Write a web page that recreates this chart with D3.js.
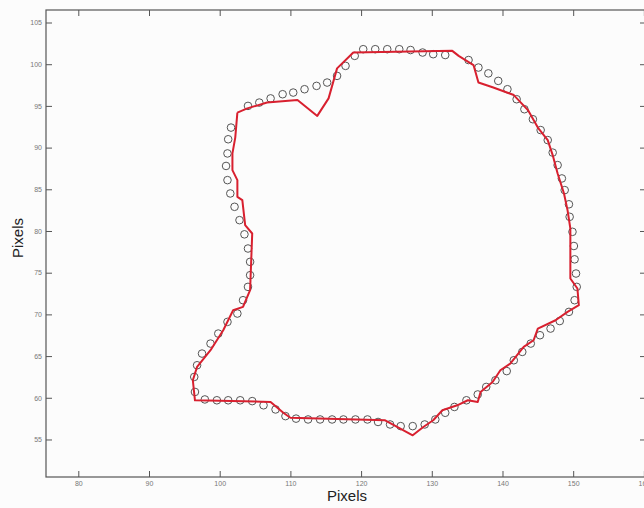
<!DOCTYPE html>
<html>
<head>
<meta charset="utf-8">
<script src="https://cdn.jsdelivr.net/npm/d3@7"></script>
<style>
  html, body { margin: 0; padding: 0; background: #fcfcfc; }
  svg { display: block; }
</style>
</head>
<body>
<div id="chart"></div>
<script>
// contour (red line), in pixel units
const contourX = [102.5, 103.9, 106.7, 111.0, 113.8, 115.4, 116.6, 118.9, 132.9, 133.8, 135.9, 136.6, 138.7, 141.6,
  143.6, 145.0, 146.4, 147.1, 147.8, 148.7, 149.2, 149.6, 149.6, 150.6, 150.8, 149.2, 147.5, 145.0, 144.4, 143.0,
  141.1, 139.7, 138.6, 136.9, 136.5, 135.1, 133.6, 131.5, 130.2, 128.8, 127.3, 123.4, 110.0, 109.0, 107.2, 96.5,
  96.2, 96.8, 98.7, 100.5, 101.9, 103.3, 104.3, 104.6, 103.6, 103.2, 102.5, 102.5, 101.8, 101.8, 102.2, 102.5];
const contourY = [94.2, 94.7, 95.4, 95.7, 93.8, 95.9, 99.5, 101.4, 101.6, 101.0, 99.9, 97.8, 97.2, 96.3,
  94.5, 92.4, 90.9, 89.1, 86.9, 84.5, 82.5, 80.3, 74.3, 73.1, 71.1, 70.3, 69.3, 68.3, 66.9, 66.1,
  64.1, 63.3, 61.9, 60.7, 59.5, 59.7, 59.1, 58.5, 57.3, 56.5, 55.5, 57.3, 57.6, 58.2, 59.5, 59.7,
  62.1, 63.7, 65.7, 68.1, 70.5, 70.9, 72.9, 79.7, 80.7, 83.7, 84.1, 86.1, 87.3, 89.3, 91.2, 94.2];

// reference points (open circles)
const pointsX = [101.6, 104.0, 105.6, 107.2, 108.9, 110.4, 112.0, 113.7, 115.2, 116.6, 117.8, 119.1, 120.3, 122.0,
  123.7, 125.4, 127.0, 128.7, 130.2, 131.9, 135.2, 136.6, 138.0, 139.4, 140.7, 142.0, 143.1, 144.3, 145.4, 146.4,
  147.1, 147.8, 148.4, 148.8, 149.4, 149.5, 149.9, 150.1, 150.2, 150.4, 150.5, 150.2, 149.4, 148.1, 146.8, 145.3,
  144.0, 142.8, 141.6, 140.6, 139.0, 137.7, 136.5, 134.9, 133.2, 131.9, 130.5, 129.0, 127.3, 125.6, 124.1, 122.4,
  120.9, 119.2, 117.5, 115.9, 114.2, 112.5, 110.8, 109.3, 107.9, 106.2, 104.6, 102.9, 101.2, 99.6, 97.9, 96.5,
  96.4, 96.8, 97.5, 98.7, 99.8, 101.1, 102.5, 103.3, 104.0, 104.3, 104.3, 104.0, 103.5, 102.8, 102.1, 101.5,
  101.1, 100.9, 101.1, 101.2];
const pointsY = [92.4, 95.0, 95.4, 95.9, 96.4, 96.6, 97.0, 97.4, 97.8, 98.6, 99.8, 101.0, 101.8, 101.8,
  101.8, 101.8, 101.7, 101.4, 101.2, 101.1, 100.5, 99.6, 98.9, 98.0, 97.0, 95.8, 94.6, 93.4, 92.1, 90.9,
  89.4, 87.9, 86.3, 84.9, 83.2, 81.7, 79.9, 78.2, 76.6, 74.9, 73.3, 71.7, 70.3, 69.2, 68.3, 67.5,
  66.5, 65.5, 64.5, 63.2, 62.1, 61.3, 60.4, 59.7, 58.9, 58.2, 57.4, 56.8, 56.6, 56.6, 56.8, 57.1,
  57.4, 57.4, 57.4, 57.4, 57.4, 57.4, 57.5, 57.8, 58.6, 59.1, 59.6, 59.7, 59.7, 59.7, 59.8, 60.7,
  62.5, 63.9, 65.3, 66.5, 67.7, 69.1, 70.1, 71.7, 73.3, 74.7, 76.3, 77.9, 79.6, 81.3, 82.9, 84.5,
  86.1, 87.8, 89.3, 91.0];

const xTicks = [80, 90, 100, 110, 120, 130, 140, 150, 160];
const yTicks = [55, 60, 65, 70, 75, 80, 85, 90, 95, 100, 105];
const xTitle = "Pixels";
const yTitle = "Pixels";

const createChart = () => {
  let containerdims = { width: 644, height: 508 };
  let margins = { t: 10, b: 31, l: 46, r: -2 };
  let chartdims = {
    width: containerdims.width - margins.l - margins.r,
    height: containerdims.height - margins.t - margins.b,
  };

  let svg = d3.select('#chart').append('svg')
    .attr('width', containerdims.width)
    .attr('height', containerdims.height)
    .style('font-family', 'Arial, "Liberation Sans", sans-serif');

  let xScale = d3.scaleLinear().domain([75.43, 160.3]).range([0, chartdims.width]);
  let yScale = d3.scaleLinear().domain([50.5, 106.5]).range([chartdims.height, 0]);

  let plotg = svg.append('g').attr('transform', `translate(${margins.l},${margins.t})`);

  // axes, MATLAB style ticks pointing inward on all four sides
  const styleAxis = (g, showText) => {
    g.select('.domain').remove();
    g.selectAll('.tick line').attr('stroke', '#555').attr('stroke-width', 1);
    g.selectAll('.tick text').attr('fill', '#777').style('font-size', '7px');
    if (!showText) g.selectAll('.tick text').remove();
  };

  plotg.append('g')
    .attr('transform', `translate(0,${chartdims.height})`)
    .call(d3.axisBottom(xScale).tickValues(xTicks).tickSizeInner(-6).tickSizeOuter(0).tickPadding(4).tickFormat(d3.format('d')))
    .call(g => styleAxis(g, true));
  plotg.append('g')
    .call(d3.axisTop(xScale).tickValues(xTicks).tickSizeInner(-6).tickSizeOuter(0))
    .call(g => styleAxis(g, false));
  plotg.append('g')
    .call(d3.axisLeft(yScale).tickValues(yTicks).tickSizeInner(-6).tickSizeOuter(0).tickPadding(4).tickFormat(d3.format('d')))
    .call(g => styleAxis(g, true));
  plotg.append('g')
    .attr('transform', `translate(${chartdims.width},0)`)
    .call(d3.axisRight(yScale).tickValues(yTicks).tickSizeInner(-6).tickSizeOuter(0))
    .call(g => styleAxis(g, false));

  // frame
  plotg.append('rect')
    .attr('x', 0).attr('y', 0)
    .attr('width', chartdims.width).attr('height', chartdims.height)
    .attr('fill', 'none').attr('stroke', '#555').attr('stroke-width', 1.2);

  // circles
  let points = pointsX.map((x, i) => ({ x: x, y: pointsY[i] }));
  plotg.selectAll('.pt')
    .data(points)
    .join('circle')
    .attr('class', 'pt')
    .attr('cx', d => xScale(d.x))
    .attr('cy', d => yScale(d.y))
    .attr('r', 3.8)
    .attr('fill', 'none')
    .attr('stroke', '#555')
    .attr('stroke-width', 1);

  // contour line
  let contour = contourX.map((x, i) => ({ x: x, y: contourY[i] }));
  let lineGen = d3.line().x(d => xScale(d.x)).y(d => yScale(d.y));
  plotg.append('path')
    .datum(contour)
    .attr('d', lineGen)
    .attr('fill', 'none')
    .attr('stroke', '#d8202f')
    .attr('stroke-width', 2)
    .attr('stroke-linejoin', 'round');

  // titles
  svg.append('text')
    .attr('x', 347).attr('y', 501)
    .attr('text-anchor', 'middle')
    .style('font-size', '15px').attr('fill', '#222')
    .text(xTitle);
  svg.append('text')
    .attr('transform', 'translate(23,238) rotate(-90)')
    .attr('text-anchor', 'middle')
    .style('font-size', '15px').attr('fill', '#222')
    .text(yTitle);
};

createChart();
</script>
</body>
</html>
